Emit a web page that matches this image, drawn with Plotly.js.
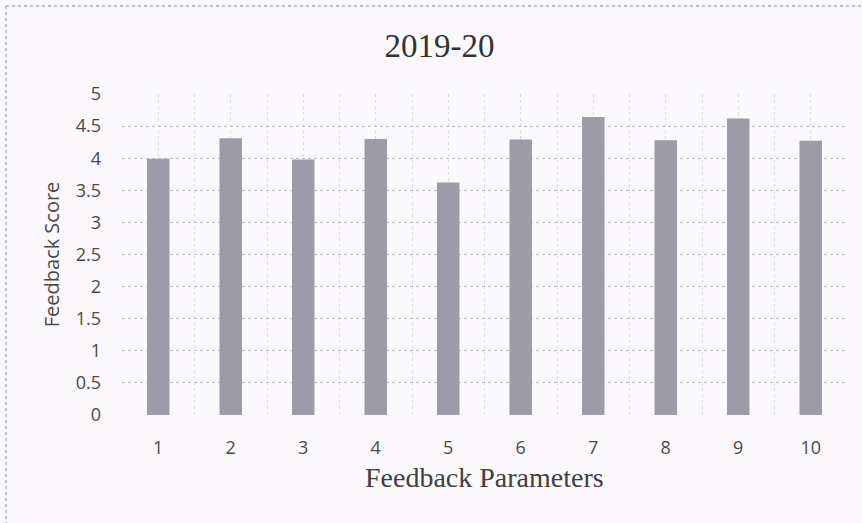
<!DOCTYPE html>
<html>
<head>
<meta charset="utf-8">
<script src="https://cdn.plot.ly/plotly-3.0.1.min.js"></script>
<style>
  html, body { margin: 0; padding: 0; background: #fbf9fb; }
  #chart { width: 862px; height: 523px; }
</style>
</head>
<body>
<div id="chart"></div>
<script>
const parameters = [1, 2, 3, 4, 5, 6, 7, 8, 9, 10];
const tickLabels = ['1', '2', '3', '4', '5', '6', '7', '8', '9', '10'];
const scores = [3.99, 4.31, 3.98, 4.30, 3.62, 4.29, 4.64, 4.28, 4.62, 4.27];
const yTicks = [0, 0.5, 1, 1.5, 2, 2.5, 3, 3.5, 4, 4.5, 5];
const xTitle = 'Feedback Parameters';

const trace = {
  type: 'bar',
  x: parameters,
  y: scores,
  width: 0.31,
  marker: { color: '#9d9ba5', line: { width: 0 } },
  hoverinfo: 'x+y'
};

const gridColor = '#bdbcc6';
const layout = {
  width: 862,
  height: 523,
  paper_bgcolor: '#fbf9fb',
  plot_bgcolor: '#fbf9fb',
  margin: { l: 122, r: 15, t: 94, b: 108 },
  showlegend: false,
  title: {
    text: '2019-20',
    font: { family: 'Liberation Serif', size: 33, color: '#333333' },
    xref: 'container', x: 0.51, xanchor: 'center',
    yref: 'container', y: 1 - 45 / 523, yanchor: 'middle'
  },
  xaxis: {
    type: 'linear',
    range: [0.5, 10.5],
    tickvals: parameters,
    ticktext: tickLabels,
    ticks: '',
    ticklabelstandoff: 20,
    tickfont: { family: 'Open Sans', size: 18, color: '#4a4a4a' },
    showgrid: true,
    gridcolor: '#dddce5',
    griddash: 'dot',
    gridwidth: 1,
    minor: { tick0: 0.5, dtick: 1, showgrid: true, gridcolor: '#dddce5', griddash: 'dot', gridwidth: 1 },
    showline: false,
    zeroline: false
  },
  yaxis: {
    range: [0, 5],
    tickvals: yTicks,
    ticks: '',
    ticklabelstandoff: 20,
    tickfont: { family: 'Open Sans', size: 18, color: '#4a4a4a' },
    showgrid: true,
    gridcolor: gridColor,
    griddash: 'dot',
    gridwidth: 1,
    zeroline: false,
    showline: false,
    automargin: true,
    title: {
      text: 'Feedback Score',
      font: { family: 'Open Sans', size: 20, color: '#4a4a4a' },
      standoff: 10
    }
  },
  annotations: [
    { text: xTitle, xref: 'paper', yref: 'paper', x: 0.5, y: -(478 - 415) / 321, xanchor: 'center', yanchor: 'middle', showarrow: false,
      font: { family: 'Liberation Serif', size: 28, color: '#404040' } }
  ],
  shapes: [
    { type: 'line', xref: 'paper', yref: 'paper', x0: (6 - 122) / 725, x1: (6 - 122) / 725, y0: 1 + (94 - 6) / 321, y1: -(523 - 415) / 321 - 0.01, line: { color: '#aeadb6', width: 1.5, dash: 'dot' } },
    { type: 'line', xref: 'paper', yref: 'paper', x0: (6 - 122) / 725, x1: 1.03, y0: 1 + (94 - 6) / 321, y1: 1 + (94 - 6) / 321, line: { color: '#aeadb6', width: 1.5, dash: 'dot' } }
  ]
};

Plotly.newPlot('chart', [trace], layout, { displayModeBar: false, staticPlot: true });
</script>
</body>
</html>
